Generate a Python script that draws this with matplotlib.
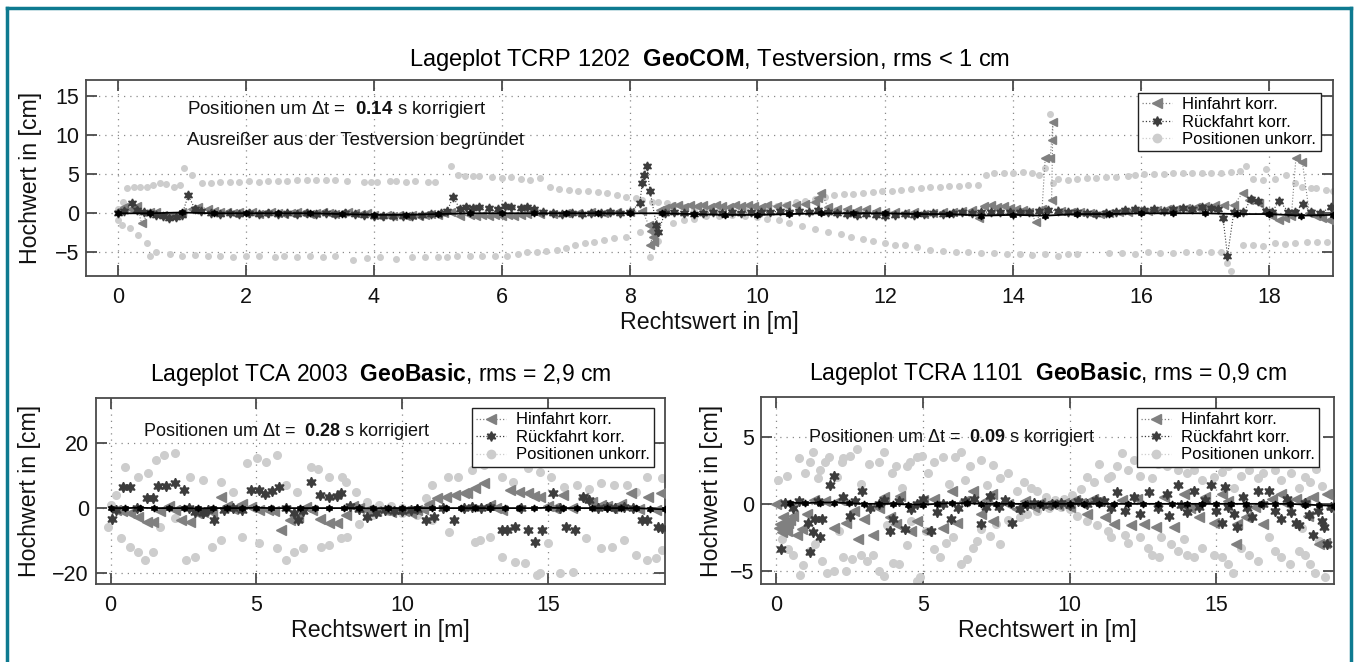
import matplotlib
matplotlib.use("Agg")
import matplotlib.pyplot as plt
from matplotlib.lines import Line2D

plt.rcParams['font.family'] = ['Liberation Sans', 'DejaVu Sans']
plt.rcParams['mathtext.fontset'] = 'custom'
plt.rcParams['mathtext.rm'] = 'Liberation Sans'
plt.rcParams['mathtext.bf'] = 'Liberation Sans:bold'

# ---------------- data: top panel (TCRP 1202, GeoCOM) ----------------
hin_top = [(0.0, 0.3), (0.1, 0.8), (0.2, 0.6), (0.3, 0.9), (0.37, -1.3), (0.5, 0.2), (0.6, 0.1), (0.7, -0.2),
           (0.8, -0.3), (0.9, -0.2), (1.0, 0.2), (1.15, 0.6), (1.25, 0.85), (1.4, 0.6), (1.5, 0.3), (1.6, 0.2),
           (1.7, 0.1), (1.8, 0.0), (1.9, 0.1), (2.0, 0.0), (2.1, 0.1), (2.2, -0.1), (2.3, 0.0), (2.4, 0.1),
           (2.5, 0.0), (2.6, -0.1), (2.7, 0.0), (2.8, 0.1), (2.9, 0.0), (3.0, -0.1), (3.1, 0.0), (3.2, 0.1),
           (3.3, 0.0), (3.4, -0.1), (3.5, 0.0), (3.6, 0.1), (3.7, 0.0), (3.8, -0.1), (3.9, 0.0), (4.0, -0.2),
           (4.1, -0.3), (4.2, -0.2), (4.3, -0.3), (4.4, -0.2), (4.5, -0.3), (4.6, -0.2), (4.7, -0.3), (4.8, -0.2),
           (4.9, -0.1), (5.0, -0.2), (5.1, 0.0), (5.2, 0.2), (5.35, -0.3), (5.5, -0.2), (5.6, -0.3), (5.7, -0.2),
           (5.8, -0.3), (5.9, -0.2), (6.0, -0.3), (6.1, -0.2), (6.2, -0.3), (6.3, -0.2), (6.4, -0.1), (6.6, -0.1),
           (6.8, -0.1), (7.0, 0.0), (7.2, 0.0), (7.4, 0.1), (7.6, 0.0), (7.8, 0.1), (8.0, 0.2), (8.2, 0.3),
           (8.3, -1.5), (8.33, -2.3), (8.36, -3.0), (8.38, -3.6), (8.32, -4.1), (8.47, 0.4), (8.55, 0.7),
           (8.65, 0.9), (8.75, 1.0), (8.85, 0.8), (8.95, 1.0), (9.05, 0.9), (9.15, 1.0), (9.25, 0.8), (9.35, 1.0),
           (9.45, 0.9), (9.55, 0.8), (9.65, 1.0), (9.75, 0.9), (9.85, 1.1), (9.95, 0.9), (10.05, 0.8), (10.15, 1.0),
           (10.3, 0.9), (10.45, 1.1), (10.6, 1.0), (10.75, 1.2), (10.9, 1.5), (10.94, 2.0), (11.0, 2.6),
           (11.1, 0.8), (11.25, 0.6), (11.4, 0.5), (11.55, 0.4), (11.7, 0.5), (11.85, 0.3), (12.0, 0.2),
           (12.15, 0.1), (12.3, 0.0), (12.45, 0.1), (12.6, -0.1), (12.75, 0.0), (12.9, 0.1), (13.05, 0.2),
           (13.2, 0.3), (13.35, 0.4), (13.47, -0.6), (13.55, 0.9), (13.65, 1.0), (13.75, 0.8), (13.85, 0.9),
           (13.95, 0.7), (14.05, 0.6), (14.15, 0.4), (14.25, 0.2), (14.36, -1.1), (14.45, 0.5), (14.5, 7.1),
           (14.58, 7.1), (14.6, 9.4), (14.62, 11.6), (14.6, 1.7), (14.75, 0.3), (14.9, 0.2), (15.05, 0.1),
           (15.2, 0.0), (15.35, -0.1), (15.5, 0.0), (15.65, 0.1), (15.8, 0.2), (15.95, 0.3), (16.1, 0.3),
           (16.25, 0.4), (16.4, 0.5), (16.55, 0.6), (16.7, 0.7), (16.85, 0.8), (17.0, 0.9), (17.15, 1.0),
           (17.3, 1.0), (17.45, 1.1), (17.59, 2.6), (17.69, 1.7), (17.85, 1.3), (17.95, 0.0), (18.05, -0.4),
           (18.16, -0.9), (18.25, -0.6), (18.35, -0.3), (18.42, 7.1), (18.52, 6.6), (18.63, 0.0), (18.73, -0.3),
           (18.83, -0.6), (18.94, -0.9)]

rueck_top = [(0.0, 0.0), (0.1, 0.3), (0.22, 1.3), (0.3, 0.4), (0.4, 0.2), (0.5, 0.0), (0.6, -0.2), (0.7, -0.4),
             (0.8, -0.6), (0.9, -0.5), (1.0, -0.2), (1.1, 2.3), (1.2, 0.6), (1.3, 0.3), (1.45, 0.0), (1.6, -0.1),
             (1.75, 0.0), (1.9, -0.1), (2.05, 0.0), (2.2, -0.1), (2.35, 0.0), (2.5, -0.1), (2.65, 0.0), (2.8, -0.1),
             (2.95, 0.0), (3.1, -0.1), (3.25, 0.0), (3.4, -0.1), (3.55, 0.0), (3.7, -0.1), (3.85, -0.2), (4.0, -0.3),
             (4.15, -0.4), (4.3, -0.3), (4.45, -0.4), (4.6, -0.3), (4.75, -0.2), (4.9, -0.1), (5.05, 0.0),
             (5.15, 0.3), (5.24, 2.1), (5.35, 0.5), (5.45, 0.8), (5.55, 0.7), (5.65, 0.8), (5.8, 0.7), (5.95, 0.6),
             (6.05, 0.9), (6.15, 0.8), (6.3, 0.7), (6.4, 0.8), (6.5, 0.6), (6.65, 0.2), (6.8, 0.0), (6.95, -0.1),
             (7.1, 0.0), (7.25, -0.1), (7.4, 0.0), (7.55, 0.0), (7.7, 0.1), (7.85, 0.0), (8.0, 0.1), (8.16, 1.3),
             (8.2, 3.9), (8.23, 4.9), (8.27, 6.0), (8.32, 2.8), (8.42, -1.5), (8.45, -2.4), (8.55, 0.0), (8.7, 0.1),
             (8.85, 0.0), (9.0, -0.1), (9.15, 0.0), (9.3, 0.1), (9.45, 0.0), (9.6, 0.1), (9.75, 0.0), (9.9, 0.1),
             (10.05, 0.2), (10.2, 0.1), (10.35, 0.3), (10.5, 0.2), (10.65, 0.3), (10.8, 0.2), (10.95, 0.4),
             (11.1, 0.2), (11.25, 0.0), (11.4, -0.1), (11.55, -0.2), (11.7, -0.1), (11.85, -0.2), (12.0, -0.3),
             (12.15, -0.2), (12.3, -0.1), (12.45, -0.2), (12.6, -0.1), (12.75, 0.0), (12.9, -0.1), (13.05, 0.0),
             (13.2, 0.1), (13.35, 0.0), (13.5, 0.1), (13.65, 0.2), (13.8, 0.1), (13.95, 0.2), (14.1, 0.1),
             (14.25, 0.2), (14.4, 0.3), (14.55, 0.4), (14.7, 0.3), (14.85, 0.2), (15.0, 0.1), (15.15, 0.0),
             (15.3, -0.1), (15.45, 0.0), (15.6, 0.2), (15.75, 0.4), (15.9, 0.5), (16.05, 0.4), (16.2, 0.5),
             (16.35, 0.3), (16.5, 0.6), (16.65, 0.7), (16.8, 0.6), (16.95, 0.8), (17.1, 0.7), (17.2, 0.6),
             (17.28, -0.6), (17.35, -5.4), (17.45, 0.2), (17.6, 0.1), (17.72, 1.85), (17.82, 1.6), (17.95, 0.3),
             (18.05, 0.2), (18.16, 1.6), (18.3, 0.2), (18.4, 0.1), (18.53, 1.2), (18.65, 0.1), (18.8, 0.0),
             (18.97, 0.8)]

unk_top_a = [(0.0, 0.5), (0.08, 1.5), (0.14, 3.2), (0.25, 3.3), (0.35, 3.3), (0.45, 3.4), (0.55, 3.6), (0.65, 3.8),
             (0.75, 3.7), (0.87, 3.4), (0.97, 3.6), (1.03, 5.8), (1.16, 4.9), (1.31, 3.9), (1.45, 3.9), (1.6, 4.0),
             (1.75, 4.0), (1.9, 4.0), (2.05, 4.1), (2.2, 4.0), (2.35, 4.1), (2.5, 4.1), (2.65, 4.1), (2.8, 4.2),
             (2.95, 4.2), (3.1, 4.2), (3.25, 4.3), (3.4, 4.3), (3.58, 4.1), (3.84, 4.0), (3.95, 4.0), (4.05, 4.0),
             (4.25, 4.1), (4.35, 4.1), (4.5, 4.0), (4.65, 4.1), (4.85, 4.0), (4.95, 4.0), (5.2, 6.0), (5.32, 4.9),
             (5.42, 4.8), (5.55, 4.8), (5.65, 4.7), (5.85, 4.6), (6.0, 4.5), (6.15, 4.6), (6.3, 4.4), (6.44, 4.3),
             (6.6, 4.5), (6.75, 3.3), (6.9, 3.1), (7.05, 3.0), (7.2, 2.9), (7.35, 2.8), (7.5, 2.7), (7.64, 2.6),
             (7.8, 2.3), (7.95, 2.1), (8.1, 1.9), (8.2, 1.7), (8.35, 1.5), (8.45, 1.4), (8.58, 1.3), (8.7, 1.0),
             (8.85, 0.8), (9.0, 0.6), (9.2, 0.4), (9.4, 0.3), (9.6, 0.2), (9.8, 0.4), (10.0, 0.5), (10.15, 0.7),
             (10.3, 0.9), (10.45, 1.1), (10.6, 1.4), (10.75, 1.6), (10.9, 1.8), (11.05, 2.1), (11.2, 2.3),
             (11.35, 2.4), (11.5, 2.5), (11.65, 2.6), (11.8, 2.7), (11.95, 2.8), (12.1, 2.9), (12.25, 3.0),
             (12.4, 3.1), (12.55, 3.2), (12.7, 3.4), (12.85, 3.4), (13.0, 3.5), (13.15, 3.5), (13.3, 3.6),
             (13.45, 3.6), (13.58, 4.9), (13.7, 5.1), (13.85, 5.2), (14.0, 5.2), (14.15, 5.3), (14.3, 5.2),
             (14.41, 4.9), (14.5, 5.8), (14.57, 12.7), (14.62, 3.8), (14.7, 4.4), (14.85, 4.3), (15.0, 4.4),
             (15.15, 4.5), (15.3, 4.5), (15.45, 4.6), (15.6, 4.6), (15.8, 4.7), (15.9, 4.9), (16.05, 5.0),
             (16.2, 5.0), (16.35, 5.0), (16.5, 5.1), (16.65, 5.1), (16.8, 5.1), (16.95, 5.2), (17.1, 5.2),
             (17.25, 5.2), (17.4, 5.3), (17.55, 5.4), (17.64, 6.0), (17.75, 4.4), (17.9, 4.3), (17.95, 5.6),
             (18.1, 4.4), (18.26, 4.9), (18.4, 3.8), (18.52, 3.4), (18.65, 3.2), (18.73, 3.2), (18.89, 3.0),
             (19.0, 2.8)]

unk_top_b = [(0.0, -0.8), (0.06, -1.5), (0.19, -1.9), (0.32, -2.8), (0.45, -3.8), (0.5, -5.4), (0.6, -4.9),
             (0.82, -5.2), (1.0, -5.4), (1.2, -5.3), (1.4, -5.5), (1.6, -5.4), (1.8, -5.6), (2.0, -5.5), (2.2, -5.4),
             (2.45, -5.6), (2.6, -5.5), (2.8, -5.6), (3.0, -5.5), (3.2, -5.6), (3.4, -5.5), (3.68, -6.0), (3.9, -5.7),
             (4.1, -5.6), (4.35, -5.8), (4.6, -5.6), (4.8, -5.6), (5.0, -5.6), (5.14, -5.6), (5.3, -5.5), (5.5, -5.5),
             (5.7, -5.4), (5.9, -5.4), (6.08, -5.4), (6.25, -5.2), (6.4, -5.0), (6.55, -4.9), (6.7, -4.8),
             (6.86, -4.7), (7.0, -4.4), (7.15, -4.1), (7.3, -3.8), (7.45, -3.6), (7.6, -3.4), (7.75, -3.2),
             (7.95, -3.0), (8.16, -2.4), (8.32, -5.6), (8.45, -3.5), (8.68, -1.3), (8.85, -0.9), (9.0, -0.7),
             (9.2, -0.4), (9.4, -0.3), (9.6, -0.2), (9.8, -0.3), (10.0, -0.5), (10.15, -0.7), (10.33, -0.9),
             (10.5, -1.2), (10.7, -1.6), (10.9, -2.0), (11.1, -2.4), (11.3, -2.7), (11.47, -3.0), (11.65, -3.3),
             (11.8, -3.5), (12.0, -3.8), (12.15, -4.0), (12.3, -4.1), (12.5, -4.3), (12.7, -4.7), (12.9, -4.8),
             (13.1, -4.9), (13.3, -5.0), (13.5, -5.1), (13.7, -5.1), (13.9, -5.2), (14.1, -5.2), (14.3, -5.3),
             (14.5, -5.2), (14.7, -5.5), (14.85, -5.2), (15.0, -5.2), (15.5, -5.1), (15.7, -5.1), (15.9, -5.2),
             (16.1, -5.0), (16.3, -5.1), (16.5, -5.1), (16.7, -5.0), (16.9, -4.9), (17.1, -5.0), (17.25, -4.9),
             (17.35, -6.3), (17.4, -7.3), (17.6, -4.1), (17.75, -4.0), (17.9, -4.2), (18.1, -3.8), (18.25, -3.9),
             (18.4, -3.8), (18.6, -3.7), (18.75, -3.7), (18.9, -3.6)]

ref_top = [(0.0, 0.0), (0.5, 0.0), (1.0, 0.1), (1.5, 0.0), (2.0, 0.0), (2.5, 0.0), (3.0, 0.0), (3.5, -0.1),
           (4.0, -0.2), (4.5, -0.2), (5.0, -0.1), (5.5, 0.0), (6.0, 0.0), (6.5, 0.0), (7.0, 0.0), (7.5, 0.0),
           (8.0, 0.0), (8.5, 0.0), (9.0, -0.1), (9.5, -0.2), (10.0, -0.2), (10.5, -0.1), (11.0, 0.0), (11.5, 0.0),
           (12.0, 0.0), (12.5, -0.1), (13.0, -0.1), (13.5, -0.3), (14.0, -0.2), (14.5, -0.3), (15.0, -0.1),
           (15.5, -0.1), (16.0, 0.0), (16.5, 0.0), (17.0, 0.0), (17.5, -0.1), (18.0, -0.1), (18.5, -0.3),
           (19.0, -0.2)]

# ---------------- data: bottom-left panel (TCA 2003, GeoBasic) ----------------
hin_bl = [(0.2, -0.6), (0.4, -1.0), (0.65, -1.5), (0.95, -2.6), (1.24, -4.2), (1.47, -4.2), (1.7, -1.0), (2.0, 0.5),
          (2.2, -0.5), (2.43, -3.8), (2.73, -4.2), (2.95, -1.5), (3.17, -1.1), (3.47, -1.1), (3.77, 3.5), (4.0, 0.5),
          (4.2, -0.3), (4.5, 1.4), (4.8, 0.2), (5.1, -0.5), (5.4, -0.6), (5.6, -1.0), (5.83, -6.7), (6.14, -3.7),
          (6.43, -2.6), (6.7, 0.2), (6.9, -0.5), (7.17, -3.2), (7.47, -4.7), (7.77, -4.7), (8.06, -2.1), (8.3, 0.5),
          (8.5, 0.0), (8.8, -0.6), (9.1, -1.0), (9.4, -0.5), (9.6, -1.2), (9.84, -0.6), (10.05, -1.0), (10.28, -1.6),
          (10.5, -0.6), (10.7, -0.3), (10.9, 1.4), (11.2, 3.0), (11.5, 3.5), (11.8, 4.0), (12.1, 4.5), (12.2, 4.5),
          (12.5, 6.1), (12.8, 7.6), (13.0, 1.0), (13.2, 0.0), (13.4, -0.5), (13.7, 5.5), (14.0, 5.0), (14.3, 4.5),
          (14.5, 3.8), (14.7, 3.5), (15.0, 0.5), (15.2, 0.0), (15.5, 4.0), (15.8, 0.0), (16.2, 3.0), (16.5, 1.9),
          (16.8, 1.0), (17.0, 0.5), (17.2, 0.0), (17.5, 1.4), (17.85, 4.5), (18.1, -0.3), (18.43, 3.5), (18.7, -0.6),
          (18.88, 4.5)]

rueck_bl = [(0.06, -3.2), (0.2, -0.5), (0.43, 6.5), (0.65, 6.5), (0.9, 0.0), (1.24, 3.0), (1.47, 3.0), (1.62, 6.7),
            (1.91, 6.7), (2.21, 7.6), (2.5, 5.5), (2.7, 0.0), (2.89, -1.1), (3.17, -1.6), (3.35, -0.5), (3.54, -3.7),
            (3.9, -0.6), (4.2, 0.0), (4.5, -0.5), (4.8, 5.7), (5.1, 5.7), (5.3, 4.3), (5.54, 5.2), (5.76, 6.5),
            (6.0, 0.0), (6.28, -1.6), (6.43, -3.7), (6.6, -1.0), (6.88, 8.1), (7.17, 4.0), (7.47, 3.5), (7.77, 3.8),
            (7.9, 4.5), (8.2, 0.5), (8.5, -0.3), (8.8, -2.6), (9.1, -1.6), (9.4, -0.5), (9.7, -0.8), (10.0, -1.0),
            (10.3, -0.6), (10.5, -0.3), (10.8, -3.7), (11.1, -2.6), (11.4, 0.0), (11.77, -3.7), (12.1, 0.0),
            (12.4, 0.3), (12.7, 0.0), (13.0, 0.2), (13.4, -6.7), (13.6, -6.7), (13.85, -5.7), (14.05, 0.0),
            (14.3, -6.7), (14.56, -10.3), (14.8, -6.7), (15.15, 4.5), (15.4, 0.0), (15.6, -5.7), (15.9, -6.7),
            (16.2, 3.5), (16.4, 2.4), (16.7, 0.0), (17.0, 0.3), (17.3, 0.0), (17.6, 0.4), (17.9, 0.0), (18.2, -3.7),
            (18.4, -3.7), (18.75, -5.7), (18.9, -6.2)]

unk_bl_a = [(0.0, 1.0), (0.2, 4.0), (0.5, 12.6), (0.95, 9.6), (1.27, 10.7), (1.54, 14.7), (1.84, 16.2), (2.21, 16.8),
            (2.73, 9.6), (3.17, 8.6), (3.77, 8.1), (4.2, 5.0), (4.66, 13.8), (5.03, 15.3), (5.32, 14.2), (5.69, 16.2),
            (6.0, 7.0), (6.4, 5.0), (6.88, 12.6), (7.1, 12.1), (7.47, 9.6), (7.92, 9.6), (8.06, 8.1), (8.4, 5.0),
            (8.8, 2.0), (9.2, 1.0), (9.6, 0.5), (10.0, 0.0), (10.4, -1.0), (10.8, 3.0), (11.0, 7.0), (11.55, 9.6),
            (11.9, 9.6), (12.4, 11.6), (12.8, 13.2), (13.4, 9.6), (13.8, 8.1), (14.3, 12.2), (14.7, 11.1),
            (15.1, 9.6), (15.55, 6.5), (16.0, 7.0), (16.4, 6.0), (16.8, 7.6), (17.25, 7.0), (17.7, 7.0), (18.0, 5.0),
            (18.4, 9.6), (18.9, 9.1)]

unk_bl_b = [(-0.1, -5.7), (0.35, -9.2), (0.65, -11.8), (0.95, -13.4), (1.17, -15.9), (1.46, -13.4), (1.7, -5.7),
            (2.2, -3.0), (2.58, -15.9), (2.89, -14.9), (3.47, -11.8), (3.77, -9.8), (4.5, -8.8), (5.1, -10.7),
            (5.7, -12.3), (6.0, -15.9), (6.3, -13.4), (6.6, -12.3), (7.2, -11.8), (7.5, -11.3), (7.9, -9.2),
            (8.1, -8.8), (8.5, -5.0), (9.0, -2.0), (9.5, -1.0), (10.0, -1.5), (10.5, -2.0), (11.0, -3.7),
            (11.6, -7.2), (12.5, -10.3), (12.66, -9.8), (13.0, -8.8), (13.4, -14.9), (13.85, -16.4), (14.2, -16.9),
            (14.6, -20.5), (14.73, -19.9), (15.0, -10.8), (15.4, -20.0), (15.85, -19.5), (16.3, -9.2),
            (16.8, -12.3), (17.2, -11.8), (17.6, -9.8), (18.0, -14.4), (18.4, -15.9), (18.7, -15.4), (18.9, -13.0)]

ref_bl = [(0.0, 0.0), (0.5, 0.0), (1.0, 0.1), (1.5, 0.0), (2.0, 0.0), (2.5, 0.0), (3.0, -0.1), (3.5, 0.0),
          (4.0, 0.0), (4.5, 0.0), (5.0, 0.1), (5.5, 0.0), (6.0, 0.0), (6.5, 0.0), (7.0, 0.0), (7.5, 0.0),
          (8.0, 0.0), (8.5, 0.0), (9.0, -0.1), (9.5, 0.0), (10.0, 0.0), (10.5, 0.0), (11.0, 0.0), (11.5, 0.0),
          (12.0, 0.0), (12.5, 0.0), (13.0, 0.0), (13.5, 0.0), (14.0, 0.0), (14.5, 0.0), (15.0, 0.1), (15.5, 0.0),
          (16.0, 0.0), (16.5, 0.0), (17.0, 0.0), (17.5, 0.0), (18.0, 0.0), (18.5, -0.2), (19.0, -0.4)]

# ---------------- data: bottom-right panel (TCRA 1101, GeoBasic) ----------------
hin_br = [(0.0, 0.0), (0.1, -1.8), (0.15, -1.5), (0.2, -2.1), (0.26, -1.0), (0.3, -1.6), (0.38, -2.0), (0.43, -1.4),
          (0.5, -1.2), (0.6, -0.9), (0.72, -2.3), (0.9, -1.9), (1.06, -0.75), (1.3, 0.3), (1.68, 0.25), (2.0, -1.8),
          (2.2, 0.3), (2.4, -1.4), (2.65, -0.5), (2.8, -2.6), (3.0, -1.1), (3.3, -2.3), (3.5, -0.3), (3.67, 0.5),
          (3.9, -1.0), (4.1, -1.5), (4.24, 0.6), (4.6, -2.0), (4.8, -1.3), (5.0, 0.3), (5.15, -2.0), (5.4, 0.4),
          (5.7, -1.8), (6.0, 1.0), (6.17, -1.4), (6.4, 0.2), (6.7, 1.0), (7.0, -0.75), (7.2, 0.3), (7.36, 0.75),
          (7.4, -1.25), (7.9, 0.0), (8.2, -0.4), (8.5, 0.2), (8.8, -0.2), (9.0, 0.1), (9.2, -0.1), (9.4, 0.0),
          (9.6, -0.1), (9.8, 0.1), (10.0, -0.2), (10.2, 0.3), (10.4, 0.1), (10.6, -0.75), (10.8, 0.4), (11.0, 0.2),
          (11.2, -1.0), (11.5, -1.5), (11.8, 0.3), (12.1, -1.6), (12.3, 0.4), (12.55, -1.5), (12.95, -1.75),
          (13.2, 0.5), (13.57, -1.75), (13.9, 0.75), (14.1, -0.3), (14.4, -1.0), (14.6, 0.5), (14.9, -1.4),
          (15.2, 0.75), (15.4, 0.2), (15.67, -3.0), (15.7, -1.5), (16.0, -1.0), (16.3, -0.25), (16.6, -1.5),
          (16.9, 0.4), (17.2, 0.75), (17.4, 0.0), (17.7, 0.4), (18.0, 0.25), (18.1, -0.9), (18.3, 0.5),
          (18.5, -3.0), (18.7, -2.9), (18.75, 0.75), (18.9, -0.3)]

rueck_br = [(0.18, -3.4), (0.3, 0.1), (0.6, -0.3), (0.8, 0.2), (1.1, -1.4), (1.17, -3.6), (1.28, -2.1), (1.34, -1.1),
            (1.45, 0.25), (1.5, -2.5), (1.57, -1.1), (1.85, 1.4), (2.0, 2.1), (2.3, 0.5), (2.53, -0.9), (2.7, 0.2),
            (2.93, 1.0), (3.2, -0.3), (3.5, 0.0), (3.7, 0.3), (3.9, -2.0), (4.0, -1.1), (4.2, 0.2), (4.4, -1.9),
            (4.6, -0.4), (4.8, 0.0), (5.0, 0.4), (5.3, -2.0), (5.5, -0.6), (5.7, 0.0), (5.95, -1.1), (6.2, -0.3),
            (6.45, 0.25), (6.74, 0.4), (7.0, -1.5), (7.15, -0.2), (7.3, 0.6), (7.6, -0.2), (7.8, 0.3), (8.05, -1.4),
            (8.3, -0.4), (8.55, -0.1), (8.8, 0.1), (9.1, -0.1), (9.4, 0.0), (9.7, 0.1), (10.0, -0.1), (10.3, 0.2),
            (10.6, 0.0), (10.9, 0.3), (11.18, 0.25), (11.4, -0.3), (11.6, 0.9), (11.9, -0.5), (12.2, 0.5),
            (12.4, -0.75), (12.7, 0.9), (13.0, -0.3), (13.3, 0.75), (13.4, -0.9), (13.7, 1.4), (13.8, -0.1),
            (14.0, -0.6), (14.25, 1.0), (14.4, -0.25), (14.6, 0.3), (14.8, 1.4), (15.0, -0.5), (15.2, -1.4),
            (15.3, 1.25), (15.4, -0.25), (15.6, -0.75), (15.7, -1.75), (15.9, 0.5), (16.05, -0.3), (16.2, -1.0),
            (16.4, 1.0), (16.6, 0.0), (16.8, 1.0), (17.0, -0.5), (17.2, -1.1), (17.4, 0.4), (17.55, -0.6),
            (17.7, -1.4), (17.8, -1.6), (18.0, 0.1), (18.15, -0.8), (18.3, -2.3), (18.45, -0.5), (18.6, -1.25),
            (18.65, -1.75), (18.75, -3.0), (18.9, -0.2)]

unk_br_a = [(0.09, 1.76), (0.37, 2.1), (0.8, 3.4), (1.0, 2.3), (1.17, 3.1), (1.28, 3.9), (1.45, 1.9), (1.5, 2.5),
            (1.68, 3.1), (1.8, 3.5), (2.1, 2.0), (2.25, 3.1), (2.3, 3.4), (2.53, 3.6), (2.76, 4.1), (2.9, 1.5),
            (3.16, 3.0), (3.5, 3.1), (3.67, 3.9), (3.95, 2.3), (4.1, 2.8), (4.3, 1.2), (4.47, 2.8), (4.58, 3.1),
            (4.8, 3.5), (4.98, 3.6), (5.2, 2.3), (5.4, 3.1), (5.7, 3.5), (5.9, 1.5), (6.1, 3.5), (6.3, 3.9),
            (6.45, 1.8), (6.6, 2.8), (7.0, 3.3), (7.2, 1.4), (7.4, 2.9), (7.65, 1.9), (7.9, 2.3), (8.2, 1.0),
            (8.44, 1.6), (8.7, 1.2), (8.9, 1.0), (9.2, 0.5), (9.5, 0.3), (9.8, 0.4), (10.1, 0.7), (10.4, 1.1),
            (10.6, 2.0), (10.84, 1.6), (11.0, 3.0), (11.3, 1.9), (11.4, 2.1), (11.6, 2.8), (11.8, 3.8),
            (11.98, 2.5), (12.2, 3.3), (12.4, 2.1), (12.6, 3.6), (12.8, 1.9), (13.0, 3.0), (13.3, 2.8), (13.5, 3.9),
            (13.7, 2.5), (14.0, 2.3), (14.25, 2.5), (14.5, 1.8), (14.7, 3.3), (14.9, 2.0), (15.2, 2.4), (15.4, 2.8),
            (15.6, 1.2), (15.85, 2.1), (16.1, 2.5), (16.4, 1.9), (16.6, 2.3), (16.8, 3.2), (17.0, 2.5), (17.2, 1.8),
            (17.55, 2.3), (17.8, 1.2), (18.0, 2.0), (18.2, 1.6), (18.4, 2.6), (18.6, 1.3), (18.9, 0.8)]

unk_br_b = [(0.2, -2.6), (0.43, -3.4), (0.6, -3.8), (0.83, -5.3), (0.94, -4.6), (1.17, -3.5), (1.34, -3.0),
            (1.57, -4.3), (1.74, -5.2), (1.97, -5.0), (2.15, -2.0), (2.3, -4.0), (2.4, -5.0), (2.6, -4.1),
            (2.9, -3.8), (3.1, -4.3), (3.3, -3.8), (3.5, -5.0), (3.67, -5.4), (3.8, -1.6), (4.0, -4.4), (4.2, -4.5),
            (4.47, -3.1), (4.6, -1.3), (4.8, -5.8), (4.9, -5.5), (5.1, -2.0), (5.4, -3.4), (5.6, -4.0), (5.8, -2.9),
            (6.05, -2.5), (6.3, -4.5), (6.5, -4.1), (6.7, -3.3), (6.85, -2.8), (7.0, -1.9), (7.3, -2.4), (7.5, -1.5),
            (7.65, -3.0), (7.9, -1.2), (8.3, -1.0), (8.55, -0.75), (8.9, -0.5), (9.3, -0.3), (9.7, -0.2),
            (10.0, -0.4), (10.27, -0.9), (10.6, -1.3), (10.95, -1.6), (11.3, -2.0), (11.4, -2.5), (11.9, -2.3),
            (12.0, -2.9), (12.4, -2.5), (12.66, -3.3), (12.8, -3.8), (13.06, -4.0), (13.1, -2.5), (13.45, -3.0),
            (13.7, -3.5), (13.9, -2.6), (14.0, -3.8), (14.25, -4.0), (14.5, -3.3), (14.9, -3.8), (15.2, -4.0),
            (15.4, -4.5), (15.56, -5.2), (15.85, -3.3), (16.1, -3.8), (16.4, -4.3), (16.8, -2.5), (17.0, -3.5),
            (17.2, -4.0), (17.5, -4.5), (17.8, -3.5), (17.9, -1.8), (18.0, -3.8), (18.2, -4.5), (18.35, -5.2),
            (18.5, -2.8), (18.7, -5.5)]

ref_br = [(0.5, 0.1), (1.0, 0.05), (1.5, 0.1), (2.0, 0.1), (2.5, 0.05), (3.0, 0.0), (3.5, 0.0), (4.0, 0.0),
          (4.5, -0.05), (5.0, -0.05), (5.5, 0.0), (6.0, 0.05), (6.5, 0.05), (7.0, 0.0), (7.5, 0.0), (8.0, 0.0),
          (8.5, 0.0), (9.0, 0.0), (9.5, 0.0), (10.0, 0.0), (10.5, 0.0), (11.0, 0.0), (11.5, 0.0), (12.0, 0.0),
          (12.5, 0.0), (13.0, 0.0), (13.5, 0.0), (14.0, 0.0), (14.5, 0.0), (15.0, 0.0), (15.5, 0.0), (16.0, 0.0),
          (16.5, 0.0), (17.0, 0.0), (17.5, 0.0), (18.0, -0.05), (18.5, -0.1), (19.0, -0.15)]

# labels / texts
titles = ["Lageplot TCRP 1202  $\\mathbf{GeoCOM}$, Testversion, rms < 1 cm",
          "Lageplot TCA 2003  $\\mathbf{GeoBasic}$, rms = 2,9 cm",
          "Lageplot TCRA 1101  $\\mathbf{GeoBasic}$, rms = 0,9 cm"]
notes = ["Positionen um \u0394t =  $\\mathbf{0.14}$ s korrigiert",
         "Positionen um \u0394t =  $\\mathbf{0.28}$ s korrigiert",
         "Positionen um \u0394t =  $\\mathbf{0.09}$ s korrigiert"]
note_extra = "Ausrei\u00dfer aus der Testversion begr\u00fcndet"
legend_labels = ["Hinfahrt korr.", "R\u00fcckfahrt korr.", "Positionen unkorr."]
xlabel = "Rechtswert in [m]"
ylabel = "Hochwert in [cm]"

# ---------------- styles ----------------
C_HIN = '#808080'
C_RUECK = '#3c3c3c'
C_UNK = '#cdcdcd'
C_AX = '#4a4a4a'
STAR = (6, 1, 0)

W, H = 1354, 662
fig = plt.figure(figsize=(W / 100, H / 100), dpi=100)
fig.patch.set_facecolor('white')


def px_axes(l, t, r, b):
    return fig.add_axes([l / W, 1 - b / H, (r - l) / W, (b - t) / H])


ax_top = px_axes(86, 80, 1333, 276)
ax_bl = px_axes(96, 398, 665, 584)
ax_br = px_axes(761, 397, 1334, 584)


def unzip(pairs):
    return [p[0] for p in pairs], [p[1] for p in pairs]


def style_axes(ax, xticks, yticks, ylim, ylabelpad):
    ax.set_xlim(-0.5, 19)
    ax.set_ylim(*ylim)
    ax.set_xticks(xticks)
    ax.set_yticks(yticks)
    ax.grid(True, color='#8a8a8a', linestyle=(0, (1, 4)), linewidth=0.9)
    ax.set_axisbelow(True)
    for s in ax.spines.values():
        s.set_color(C_AX)
        s.set_linewidth(1.3)
    ax.tick_params(direction='in', length=8, width=1.3, color=C_AX, top=True, right=True,
                   labelsize=15.5, labelcolor='#111111')
    ax.tick_params(axis='x', pad=8)
    ax.tick_params(axis='y', pad=5)
    ax.set_xlabel(xlabel, fontsize=16.7, labelpad=2, color='#111111')
    ax.set_ylabel(ylabel, fontsize=16.7, labelpad=ylabelpad, color='#111111')


def draw(ax, hin, rueck, unk_a, unk_b, ref, ms_t, ms_s, ms_d, lines):
    ls = ':' if lines else 'none'
    for u in (unk_a, unk_b):
        x, y = unzip(u)
        ax.plot(x, y, linestyle='none', marker='o', markersize=ms_d, color=C_UNK,
                markeredgecolor=C_UNK, zorder=2)
    x, y = unzip(hin)
    ax.plot(x, y, linestyle=ls, linewidth=0.8, marker='<', markersize=ms_t, color=C_HIN,
            markeredgecolor=C_HIN, zorder=3)
    x, y = unzip(rueck)
    ax.plot(x, y, linestyle=ls, linewidth=0.8, marker=STAR, markersize=ms_s, color=C_RUECK,
            markeredgecolor=C_RUECK, zorder=4)
    x, y = unzip(ref)
    ax.plot(x, y, linestyle='-', linewidth=1.3, marker=STAR, markersize=5, color='black', zorder=5)


def add_legend(ax, anchor, ms):
    handles = [Line2D([], [], linestyle=':', linewidth=0.9, marker='<', markersize=ms, color=C_HIN),
               Line2D([], [], linestyle=':', linewidth=0.9, marker=STAR, markersize=ms, color=C_RUECK),
               Line2D([], [], linestyle=':', linewidth=0.9, marker='o', markersize=ms - 1, color=C_UNK)]
    leg = ax.legend(handles, legend_labels, loc='upper right', bbox_to_anchor=anchor, borderaxespad=0,
                    fontsize=12, frameon=True, fancybox=False, framealpha=1, edgecolor='#222222',
                    handlelength=1.8, handletextpad=0.6, labelspacing=0.15, borderpad=0.25)
    leg.get_frame().set_linewidth(1.0)
    leg.set_zorder(10)


draw(ax_top, hin_top, rueck_top, unk_top_a, unk_top_b, ref_top, 6.0, 6.5, 4.0, True)
style_axes(ax_top, [0, 2, 4, 6, 8, 10, 12, 14, 16, 18], [-5, 0, 5, 10, 15], (-8, 17), 9)
ax_top.set_title(titles[0], fontsize=17, pad=10)
ax_top.text(1.08, 13.3, notes[0], fontsize=13.5, va='center', ha='left', color='#111111')
ax_top.text(1.08, 9.3, note_extra, fontsize=13.5, va='center', ha='left', color='#111111')
add_legend(ax_top, (0.990, 0.934), 7)

draw(ax_bl, hin_bl, rueck_bl, unk_bl_a, unk_bl_b, ref_bl, 7.5, 7.5, 5.5, False)
style_axes(ax_bl, [0, 5, 10, 15], [-20, 0, 20], (-23.3, 33.8), 8)
ax_bl.set_title(titles[1], fontsize=16.5, pad=12)
ax_bl.text(1.1, 23.4, notes[1], fontsize=13, va='center', ha='left', color='#111111')
add_legend(ax_bl, (0.981, 0.945), 7)

draw(ax_br, hin_br, rueck_br, unk_br_a, unk_br_b, ref_br, 7.5, 7.5, 5.5, False)
style_axes(ax_br, [0, 5, 10, 15], [-5, 0, 5], (-6, 8), 5)
ax_br.set_title(titles[2], fontsize=16.5, pad=12)
ax_br.text(1.11, 5.0, notes[2], fontsize=13, va='center', ha='left', color='#111111')
add_legend(ax_br, (0.974, 0.940), 7)

# teal frame around the figure (left, top, right edges)
teal = '#0e7a90'
fig.add_artist(Line2D([7 / W, 7 / W], [0, 1 - 8 / H], color=teal, linewidth=2.5, transform=fig.transFigure))
fig.add_artist(Line2D([7 / W, 1351 / W], [1 - 8 / H, 1 - 8 / H], color=teal, linewidth=2.5,
                      transform=fig.transFigure))
fig.add_artist(Line2D([1351 / W, 1351 / W], [0, 1 - 8 / H], color=teal, linewidth=2.5,
                      transform=fig.transFigure))

fig.savefig('out.png', dpi=100, facecolor='white')
